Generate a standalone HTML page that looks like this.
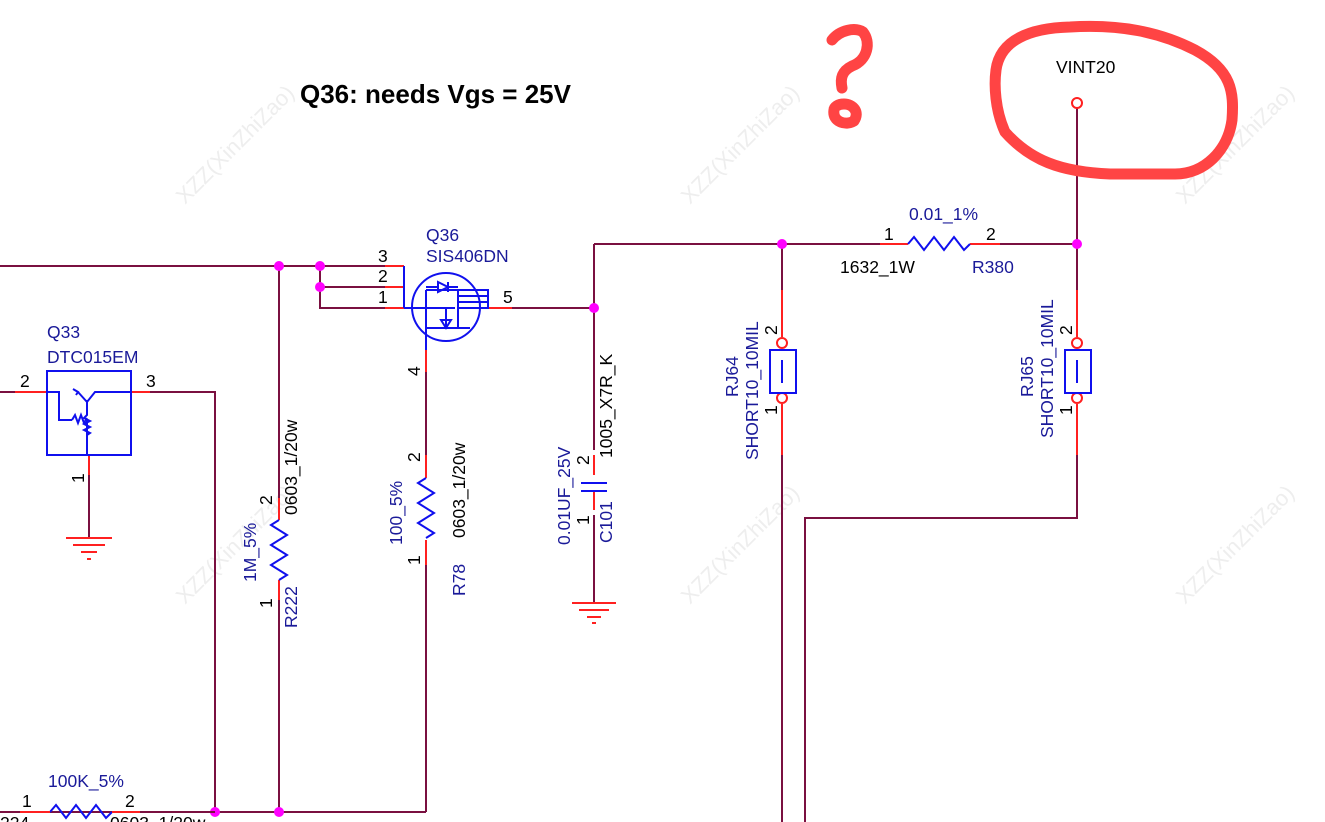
<!DOCTYPE html>
<html><head><meta charset="utf-8"><style>
html,body{margin:0;padding:0;background:#fff;}
svg{display:block;font-family:"Liberation Sans",sans-serif;}
.w{stroke:#7a1040;stroke-width:2;fill:none}
.r{stroke:#ff2020;stroke-width:2;fill:none}
.b{stroke:#1010ee;stroke-width:2;fill:none}
.t{font-size:17.5px;fill:#000}
.bl{font-size:17.5px;fill:#1a1a99}
.wm{font-size:22px;fill:#eeeeee}
</style></head><body>
<svg width="1325" height="822" viewBox="0 0 1325 822">
<g class="wm">
<text transform="translate(185,205) rotate(-45)">XZZ(XinZhiZao)</text>
<text transform="translate(690,205) rotate(-45)">XZZ(XinZhiZao)</text>
<text transform="translate(1185,205) rotate(-45)">XZZ(XinZhiZao)</text>
<text transform="translate(185,605) rotate(-45)">XZZ(XinZhiZao)</text>
<text transform="translate(690,605) rotate(-45)">XZZ(XinZhiZao)</text>
<text transform="translate(1185,605) rotate(-45)">XZZ(XinZhiZao)</text>
</g>
<text x="300" y="103" style="font-size:26px;font-weight:bold">Q36: needs Vgs = 25V</text>

<path class="w" d="M0 266H385 M320 266V308H385 M320 287H385"/>
<path class="w" d="M279 266V498 M279 600V812 M0 812H426 M426 565V812 M426 372V455"/>
<path class="w" d="M0 392H15 M150 392H215V812"/>
<path class="w" d="M89 475V538"/>
<path class="w" d="M512 308H594 M594 244V450 M594 515V603"/>
<path class="w" d="M594 244H880 M1000 244H1077"/>
<path class="w" d="M782 244V290 M782 455V822 M1077 108V290 M1077 455V518H805V822"/>
<path class="r" d="M385 266H404 M385 287H404 M385 308H404"/>
<path class="r" d="M15 392H47 M131 392H150 M89 455V475"/>
<path class="r" d="M480 308H512 M426 350V372 M426 455V478 M426 540V565"/>
<path class="r" d="M279 498V520 M279 580V600 M594 455V475 M594 491V510"/>
<path class="r" d="M880 244H908 M970 244H1000"/>
<path class="r" d="M782 290V337 M782 404V455 M1077 290V337 M1077 404V455"/>
<path class="r" d="M66 538H112 M73 545H105 M81 552H97 M87 559H91"/>
<path class="r" d="M572 603H616 M579 610H609 M587 617H601 M592 623H596"/>
<g fill="#ff00ff">
<circle cx="279" cy="266" r="5"/><circle cx="320" cy="266" r="5"/><circle cx="320" cy="287" r="5"/>
<circle cx="594" cy="308" r="5"/><circle cx="782" cy="244" r="5"/><circle cx="1077" cy="244" r="5"/>
<circle cx="215" cy="812" r="5"/><circle cx="279" cy="812" r="5"/>
</g>
<g class="b">
<path d="M404 266V308"/>
<ellipse cx="446" cy="307" rx="34" ry="34"/>
<path d="M404 308H455 M446 308V326 M441 320L446 328L451 320Z M426 290V340 M426 328H470 M426 340V350"/>
<path d="M426 290H488 M458 290V328 M458 290H488V308H458 M458 296H488 M458 302H488"/>
<path d="M438 282L448 287L438 292Z M448 282V292 M426 287H438 M448 287H458"/>
</g>
<g class="b">
<rect x="47" y="371" width="84" height="84"/>
<path d="M47 392H59V420H72 M72 420l3-5 3 8 3-8 3 8 3-5 M87 420V455 M87 400V415l-3 3 6 3-6 3 6 3-6 3 6 3-3 2V455 M78 392L87 402L95 392H131 M73 389l5 3-2 3"/>
</g>
<path class="b" d="M279 520l-8 5 16 10-16 10 16 10-16 10 16 10-8 5"/>
<path class="b" d="M426 478l-8 5 16 10-16 10 16 10-16 10 16 10-8 5"/>
<path class="b" d="M908 244l6-7 10 13 10-13 10 13 10-13 10 13 6-6"/>
<path class="b" d="M50 812l6-7 10 13 10-13 10 13 10-13 10 13 6-6"/>
<path class="r" d="M20 812H50 M112 812H140"/>
<path class="w" d="M140 812H215"/>
<path class="b" d="M581 483H607 M581 491H607"/>
<g>
<circle cx="782" cy="343" r="5" fill="#fff" stroke="#ff2020" stroke-width="2"/>
<circle cx="782" cy="398" r="5" fill="#fff" stroke="#ff2020" stroke-width="2"/>
<rect x="770" y="350" width="26" height="43" class="b"/><path class="b" d="M782 360V383"/>
<circle cx="1077" cy="343" r="5" fill="#fff" stroke="#ff2020" stroke-width="2"/>
<circle cx="1077" cy="398" r="5" fill="#fff" stroke="#ff2020" stroke-width="2"/>
<rect x="1065" y="350" width="26" height="43" class="b"/><path class="b" d="M1077 360V383"/>
<circle cx="1077" cy="103" r="5" fill="#fff" stroke="#ff2020" stroke-width="2"/>
</g>
<text class="bl" x="426" y="241">Q36</text>
<text class="bl" x="426" y="262">SIS406DN</text>
<text class="t" x="378" y="262">3</text><text class="t" x="378" y="282">2</text><text class="t" x="378" y="303">1</text>
<text class="t" x="503" y="303">5</text>
<text class="t" transform="translate(420,376) rotate(-90)">4</text>
<text class="bl" x="47" y="338">Q33</text>
<text class="bl" x="47" y="363">DTC015EM</text>
<text class="t" x="20" y="387">2</text><text class="t" x="146" y="387">3</text>
<text class="t" transform="translate(84,483) rotate(-90)">1</text>
<text class="t" transform="translate(272,505) rotate(-90)">2</text>
<text class="t" transform="translate(272,608) rotate(-90)">1</text>
<text class="bl" transform="translate(256,582) rotate(-90)">1M_5%</text>
<text class="t" transform="translate(297,515) rotate(-90)">0603_1/20w</text>
<text class="bl" transform="translate(297,628) rotate(-90)">R222</text>
<text class="t" transform="translate(420,462) rotate(-90)">2</text>
<text class="t" transform="translate(420,565) rotate(-90)">1</text>
<text class="bl" transform="translate(402,545) rotate(-90)">100_5%</text>
<text class="t" transform="translate(465,538) rotate(-90)">0603_1/20w</text>
<text class="bl" transform="translate(465,596) rotate(-90)">R78</text>
<text class="bl" transform="translate(570,545) rotate(-90)">0.01UF_25V</text>
<text class="t" transform="translate(589,465) rotate(-90)">2</text>
<text class="t" transform="translate(589,525) rotate(-90)">1</text>
<text class="t" transform="translate(612,458) rotate(-90)">1005_X7R_K</text>
<text class="bl" transform="translate(612,543) rotate(-90)">C101</text>
<text class="bl" x="909" y="220">0.01_1%</text>
<text class="t" x="884" y="240">1</text><text class="t" x="986" y="240">2</text>
<text class="t" x="840" y="273">1632_1W</text>
<text class="bl" x="972" y="273">R380</text>
<text class="bl" transform="translate(738,397) rotate(-90)">RJ64</text>
<text class="bl" transform="translate(758,460) rotate(-90)">SHORT10_10MIL</text>
<text class="t" transform="translate(777,335) rotate(-90)">2</text>
<text class="t" transform="translate(777,415) rotate(-90)">1</text>
<text class="bl" transform="translate(1033,397) rotate(-90)">RJ65</text>
<text class="bl" transform="translate(1053,438) rotate(-90)">SHORT10_10MIL</text>
<text class="t" transform="translate(1072,335) rotate(-90)">2</text>
<text class="t" transform="translate(1072,415) rotate(-90)">1</text>
<text class="t" x="1056" y="73">VINT20</text>
<text class="bl" x="48" y="787">100K_5%</text>
<text class="t" x="22" y="807">1</text><text class="t" x="125" y="807">2</text>
<text class="t" x="0" y="829">224</text><text class="t" x="110" y="829">0603_1/20w</text>
<g stroke="#ff4444" stroke-width="11" fill="none" stroke-linecap="round" stroke-linejoin="round">
<path d="M996 70C1000 40 1030 28 1070 27 C1120 24 1160 32 1195 50 C1232 70 1234 92 1232 120 C1228 150 1205 174 1175 174 L1110 174 C1060 172 1030 160 1005 132 C995 110 994 85 996 70Z"/>
<path d="M832 40C840 30 855 27 863 32 C871 42 868 60 852 66 C842 71 840 78 842 88"/>
<path d="M834 110C832 122 846 126 854 121 C860 112 853 104 844 104 C838 104 834 107 834 110Z"/>
</g>
</svg>
</body></html>
